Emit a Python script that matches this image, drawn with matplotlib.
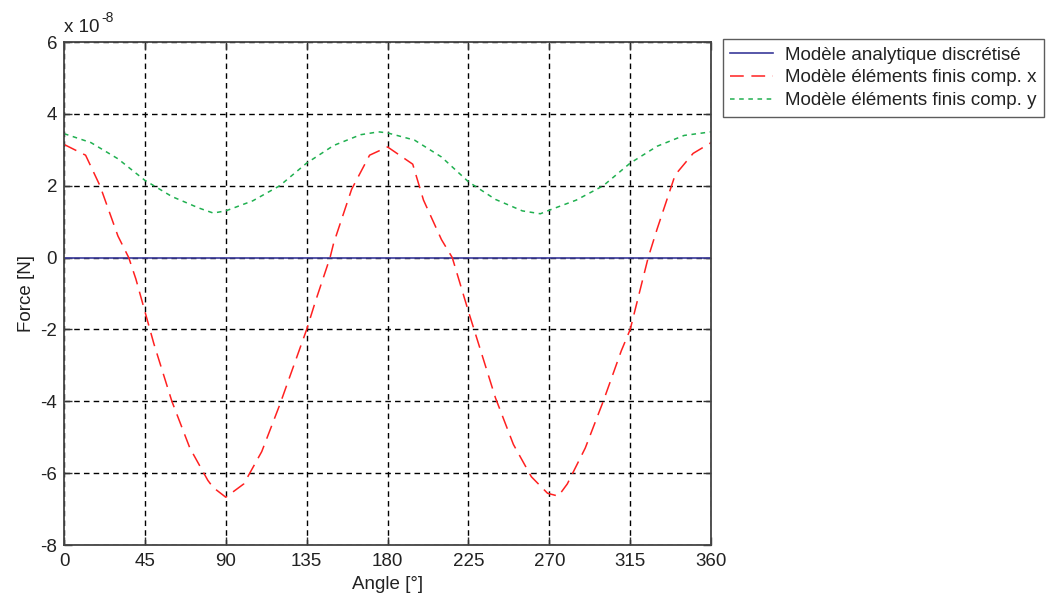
import matplotlib
matplotlib.use("Agg")
import matplotlib.pyplot as plt

# Données (force en unités de 1e-8 N)
angle_x = [0, 12, 20, 30, 36, 40, 45, 50, 60, 70, 80, 83, 90, 100, 110, 120, 130,
           135, 140, 148, 150, 160, 170, 180, 194, 200, 210, 216, 225, 230, 240,
           250, 260, 269, 275, 280, 290, 300, 310, 315, 320, 325, 330, 340, 350, 360]
force_x = [3.15, 2.85, 2.0, 0.6, 0.0, -0.6, -1.5, -2.4, -4.0, -5.3, -6.2, -6.4, -6.67,
           -6.3, -5.4, -4.1, -2.7, -2.0, -1.2, 0.0, 0.4, 1.9, 2.85, 3.08, 2.6, 1.6,
           0.5, 0.0, -1.5, -2.3, -3.9, -5.2, -6.1, -6.56, -6.64, -6.3, -5.3, -4.0,
           -2.6, -2.0, -1.0, 0.0, 0.8, 2.3, 2.9, 3.2]

angle_y = [0, 15, 30, 45, 60, 75, 83, 90, 105, 120, 135, 150, 165, 175, 180, 195,
           210, 225, 240, 255, 265, 270, 285, 300, 315, 330, 345, 360]
force_y = [3.45, 3.2, 2.75, 2.15, 1.7, 1.38, 1.24, 1.3, 1.58, 2.0, 2.63, 3.12, 3.42,
           3.5, 3.47, 3.27, 2.8, 2.11, 1.62, 1.3, 1.22, 1.32, 1.6, 2.0, 2.63, 3.1,
           3.4, 3.5]

angle_a = [0, 360]
force_a = [0, 0]

xticks = [0, 45, 90, 135, 180, 225, 270, 315, 360]
yticks = [-8, -6, -4, -2, 0, 2, 4, 6]

plt.rcParams['font.family'] = ['Liberation Sans', 'DejaVu Sans']
plt.rcParams['axes.unicode_minus'] = False

fs = 13.5
fig = plt.figure(figsize=(10.53, 5.97), dpi=100)
ax = fig.add_axes([0.0608, 0.0871, 0.6145, 0.8425])

ax.plot(angle_a, force_a, color='#3a3a9a', lw=1.2, label='Modèle analytique discrétisé')
ax.plot(angle_x, force_x, color='#ff2020', lw=1.1, dashes=(9, 5),
        label='Modèle éléments finis comp. x')
ax.plot(angle_y, force_y, color='#20b050', lw=1.1, dashes=(3, 3),
        label='Modèle éléments finis comp. y')

ax.set_xlim(0, 360)
ax.set_ylim(-8, 6)
ax.set_xticks(xticks)
ax.set_yticks(yticks)
ax.grid(True, color='black', linestyle=(0, (4, 3)), lw=1.0)
ax.tick_params(direction='in', top=True, right=True, length=6, width=1,
               colors='#333333', labelsize=fs, labelcolor='#222222')
ax.tick_params(axis='x', pad=6)
ax.tick_params(axis='y', pad=5)
for s in ax.spines.values():
    s.set_color('#444444')
    s.set_linewidth(1.3)

ax.set_xlabel('Angle [°]', fontsize=fs, color='#222222', labelpad=4)
ax.set_ylabel('Force [N]', fontsize=fs, color='#222222', labelpad=4)

# facteur d'échelle façon MATLAB
ax.text(0, 1.012, 'x 10', transform=ax.transAxes, fontsize=fs,
        color='#222222', ha='left', va='bottom')
ax.annotate('-8', xy=(0, 1.012), xycoords='axes fraction', xytext=(27, 8),
            textcoords='offset points', fontsize=10, color='#222222',
            ha='left', va='bottom')

leg = ax.legend(loc='upper left', bbox_to_anchor=(1.018, 1.006), borderaxespad=0,
                fancybox=False, edgecolor='#333333', fontsize=fs, handlelength=2.3,
                labelspacing=0.3, borderpad=0.4, handletextpad=0.6)
leg.get_frame().set_linewidth(1.0)
for t in leg.get_texts():
    t.set_color('#222222')

fig.savefig('out.png', dpi=100)
